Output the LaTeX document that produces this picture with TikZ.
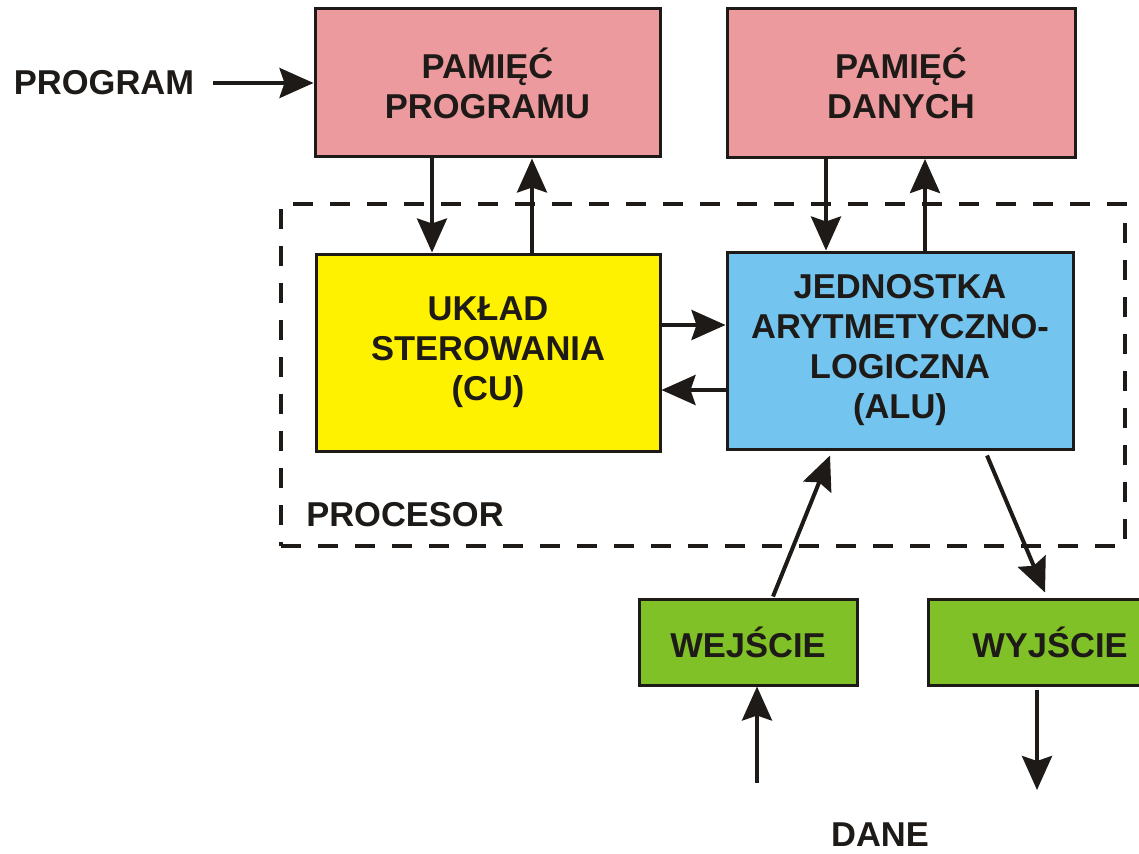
\documentclass[tikz,border=0pt]{standalone}
\usepackage{fontspec}
\setmainfont{Liberation Sans}
\usetikzlibrary{arrows.meta}
\definecolor{pinkbox}{HTML}{EC9A9E}
\definecolor{yelbox}{HTML}{FFF200}
\definecolor{bluebox}{HTML}{73C4EE}
\definecolor{greenbox}{HTML}{80C128}
\definecolor{ink}{HTML}{1E1A17}
\begin{document}
\begin{tikzpicture}[x=1pt,y=-1pt,
  txt/.style={font=\fontsize{34.5}{40}\selectfont\bfseries, text=ink, align=center},
  blk/.style={txt, draw=ink, line width=3pt, inner sep=0pt},
  conn/.style={draw=ink, line width=4pt, -{Stealth[inset=5pt,length=34pt,width=30pt]}},
  proc/.style={draw=ink, line width=4pt, dash pattern=on 20pt off 17pt, inner sep=0pt}]
\useasboundingbox (0,0) rectangle (1139,853);
\fill[white] (0,0) rectangle (1139,853);
% processor frame
\node[proc, minimum width=844pt, minimum height=342pt] (procf) at (703,375) {};
\node[txt] (proclbl) at (405,515) {PROCESOR};
% blocks
\node[blk, fill=pinkbox, minimum width=345pt, minimum height=148pt] (pp) at (487.5,83) {PAMIĘĆ\\PROGRAMU};
\node[blk, fill=pinkbox, minimum width=348pt, minimum height=149pt] (pd) at (901,83) {PAMIĘĆ\\DANYCH};
\node[blk, fill=yelbox, minimum width=344pt, minimum height=197pt] (cu) at (488,352.5) {UKŁAD\\STEROWANIA\\(CU)};
\node[blk, fill=bluebox, minimum width=346pt, minimum height=197pt] (alu) at (900,350.5) {JEDNOSTKA\\ARYTMETYCZNO-\\LOGICZNA\\(ALU)};
\node[blk, fill=greenbox, minimum width=218pt, minimum height=86pt] (wej) at (748,642) {WEJŚCIE};
\node[blk, fill=greenbox, minimum width=244pt, minimum height=86pt] (wyj) at (1050,642) {WYJŚCIE};
% labels
\node[txt] (prog) at (104,83) {PROGRAM};
\node[txt] (dane) at (880,835) {DANE};
\coordinate (progend) at (213,83);
\coordinate (danein) at (757,783);
\coordinate (daneout) at (1037,790);
% connectors
\draw[conn] (progend) -- (pp.west);
\draw[conn] ([xshift=-55.5pt]pp.south) -- ([xshift=-56pt]cu.north);
\draw[conn] ([xshift=44pt]cu.north) -- ([xshift=44.5pt]pp.south);
\draw[conn] ([xshift=-75pt]pd.south) -- ([xshift=-74pt]alu.north);
\draw[conn] ([xshift=25pt]alu.north) -- ([xshift=24pt]pd.south);
\draw[conn] ([yshift=27.5pt]cu.east) -- ([yshift=25.5pt]alu.west);
\draw[conn] ([yshift=-39.5pt]alu.west) -- ([yshift=-37.5pt]cu.east);
\draw[conn] ([xshift=25pt,yshift=1pt]wej.north) -- ([xshift=-70pt,yshift=-5pt]alu.south);
\draw[conn] ([xshift=87pt,yshift=-5pt]alu.south) -- ([xshift=-5pt,yshift=5pt]wyj.north);
\draw[conn] (danein) -- (wej.south -| danein);
\draw[conn] ([xshift=-13pt,yshift=-3pt]wyj.south) -- (daneout);
\end{tikzpicture}
\end{document}
